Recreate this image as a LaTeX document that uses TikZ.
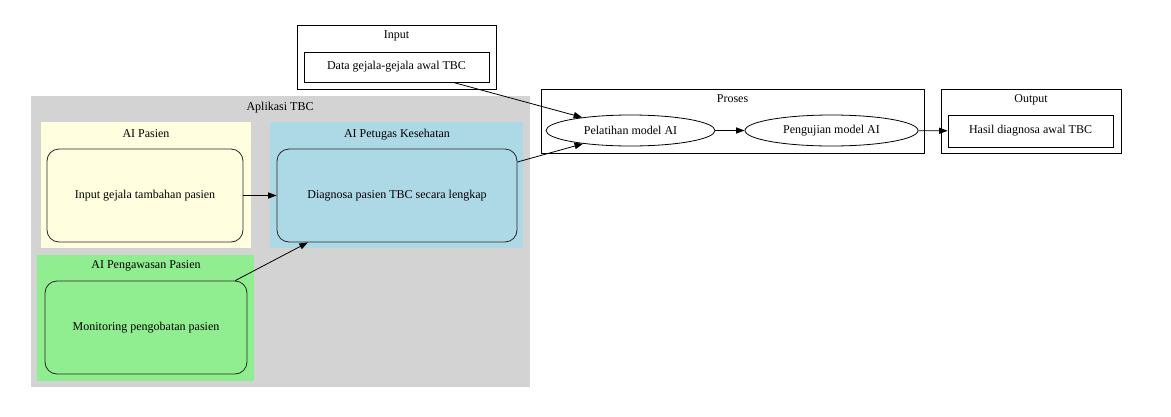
\documentclass[tikz,border=0pt]{standalone}
\usepackage{fontspec}
\setmainfont{Liberation Serif}
\usetikzlibrary{shapes.geometric,arrows.meta}

\definecolor{appgray}{HTML}{D3D3D3}
\definecolor{pasienyellow}{HTML}{FFFFE0}
\definecolor{petugasblue}{HTML}{ADD8E6}
\definecolor{awasgreen}{HTML}{90EE90}

\begin{document}
\begin{tikzpicture}[x=1pt,y=-1pt,font=\fontsize{12}{14}\selectfont]
      \useasboundingbox (0,0) rectangle (1171,416);
      \tikzstyle{cluster} = [inner sep=0pt, outer sep=0pt]
      \tikzstyle{ocluster} = [cluster, draw=black, line width=0.8pt]
      \tikzstyle{bnode} = [draw=black, line width=0.8pt, inner sep=0pt, align=center]
      \tikzstyle{rnode} = [bnode, draw=black!85, rounded corners=12pt, minimum height=93pt]
      \tikzstyle{enode} = [bnode, ellipse, minimum height=31pt]
      \tikzstyle{edge} = [-{Triangle[length=8.6pt,width=6.2pt]}, line width=0.8pt]

      \node[cluster, fill=appgray, minimum width=499pt, minimum height=291pt] (capp) at (280.5,241.5) {};
      \node[cluster, fill=pasienyellow, minimum width=210pt, minimum height=126pt] (cpasien) at (146,185) {};
      \node[cluster, fill=petugasblue, minimum width=253pt, minimum height=126pt] (cpetugas) at (396.5,185) {};
      \node[cluster, fill=awasgreen, minimum width=217pt, minimum height=126pt] (cawas) at (145.5,318) {};
      \node[ocluster, minimum width=199pt, minimum height=64pt] (cinput) at (396.5,57) {};
      \node[ocluster, minimum width=383pt, minimum height=64pt] (cproses) at (732.5,121) {};
      \node[ocluster, minimum width=180pt, minimum height=64pt] (coutput) at (1031,121) {};

      \node (lapp) at (280,108) {Aplikasi TBC};
      \node (lpasien) at (146,134) {AI Pasien};
      \node (lpetugas) at (397,135) {AI Petugas Kesehatan};
      \node (lawas) at (146,266) {AI Pengawasan Pasien};
      \node (linput) at (396.5,36) {Input};
      \node (lproses) at (732.5,99) {Proses};
      \node (loutput) at (1031,100) {Output};

      \node[bnode, minimum width=185pt, minimum height=30pt] (data) at (396.5,67) {Data gejala-gejala awal TBC};
      \node[rnode, minimum width=196pt] (gejala) at (145,195.5) {Input gejala tambahan pasien};
      \node[rnode, minimum width=240pt] (diagnosa) at (397,195.5) {Diagnosa pasien TBC secara lengkap};
      \node[rnode, minimum width=202pt] (monitor) at (146,327.5) {Monitoring pengobatan pasien};
      \node[enode, minimum width=169pt] (pelatihan) at (630.5,130.5) {Pelatihan model AI};
      \node[enode, minimum width=173pt] (pengujian) at (831.5,130.5) {Pengujian model AI};
      \node[bnode, minimum width=165pt, minimum height=32pt] (hasil) at (1030.5,131) {Hasil diagnosa awal TBC};

      \draw[edge] (data) -- (pelatihan);
      \draw[edge] (diagnosa) -- (pelatihan);
      \draw[edge] (gejala) -- (diagnosa);
      \draw[edge] (monitor) -- (diagnosa);
      \draw[edge] (pelatihan) -- (pengujian);
      \draw[edge] (pengujian) -- (hasil);
    \end{tikzpicture}
\end{document}
